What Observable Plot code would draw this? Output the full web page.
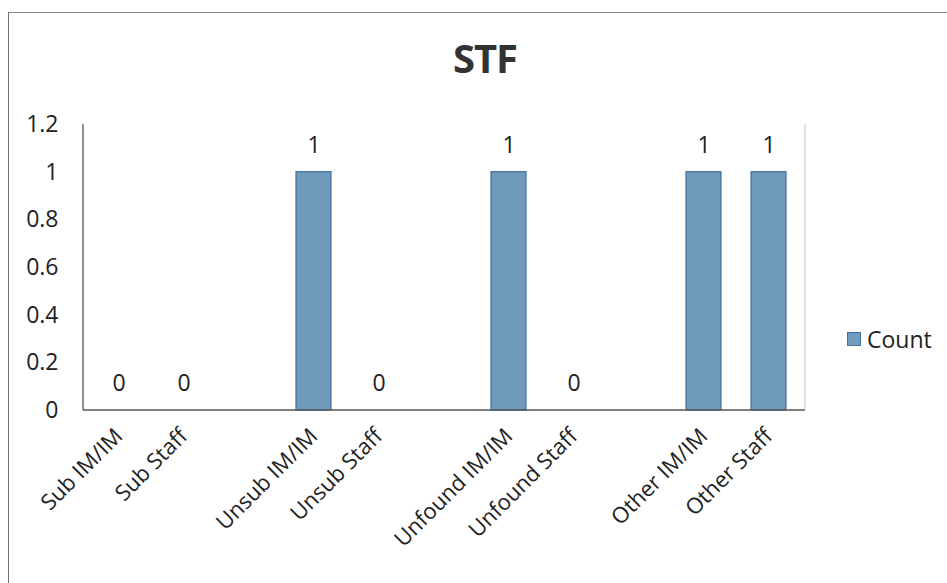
<!DOCTYPE html>
<html><head><meta charset="utf-8">
<script src="https://cdn.jsdelivr.net/npm/d3@7"></script>
<script src="https://cdn.jsdelivr.net/npm/@observablehq/plot@0.6"></script>
<style>
body{margin:0;background:#fff;font-family:"Open Sans",sans-serif;}
#wrap{position:relative;width:947px;height:583px;overflow:hidden;background:#fff;}
#frame{position:absolute;left:8px;top:12px;width:960px;height:600px;border-left:1.5px solid #6f6f6f;border-top:1.5px solid #888;}
#title{position:absolute;left:0;width:970px;top:30px;text-align:center;font-size:40px;font-weight:bold;color:#333;letter-spacing:-1px;}
#chart{position:absolute;left:0;top:90px;}
#legend{position:absolute;left:847px;top:323px;display:flex;align-items:center;font-size:23px;color:#222;}
#legend .sw{width:14px;height:14px;background:#719cbd;border:1px solid #41709f;box-sizing:border-box;margin-right:6px;}
</style></head>
<body>
<div id="wrap">
  <div id="frame"></div>
  <div id="title">STF</div>
  <div id="chart"></div>
  <div id="legend"><div class="sw"></div><span>Count</span></div>
</div>
<script>
const categories = ["Sub IM/IM","Sub Staff","Unsub IM/IM","Unsub Staff","Unfound IM/IM","Unfound Staff","Other IM/IM","Other Staff"];
const counts = [0,0,1,0,1,0,1,1];
// axis slots, with blank gaps between the groups as in the original
const slots = ["Sub IM/IM","Sub Staff"," ","Unsub IM/IM","Unsub Staff","  ","Unfound IM/IM","Unfound Staff","   ","Other IM/IM","Other Staff"];
const yTicks = [0,0.2,0.4,0.6,0.8,1,1.2];

const data = categories.map((c,i)=>({cat:c,count:counts[i]}));

const frameLines = (index, scales, values, dims) => {
  const g = d3.create("svg:g");
  const x0 = dims.marginLeft, x1 = dims.width - dims.marginRight;
  const y0 = dims.marginTop, y1 = dims.height - dims.marginBottom;
  g.append("line").attr("x1",x1).attr("x2",x1).attr("y1",y0).attr("y2",y1).attr("stroke","#c4c4c4").attr("stroke-width",1);
  g.append("line").attr("x1",x0).attr("x2",x0).attr("y1",y0).attr("y2",y1).attr("stroke","#555").attr("stroke-width",1.3);
  g.append("line").attr("x1",x0).attr("x2",x1).attr("y1",y1).attr("y2",y1).attr("stroke","#555").attr("stroke-width",1.3);
  return g.node();
};

const chart = Plot.plot({
  width: 947, height: 493,
  marginLeft: 83, marginRight: 142, marginTop: 34, marginBottom: 173,
  style: {fontFamily: "Open Sans, sans-serif", fontSize: "23px", color: "#222", background: "transparent", overflow: "visible"},
  x: {domain: slots, paddingInner: 0.46, paddingOuter: 0.23, label: null},
  y: {domain: [0, 1.2], label: null},
  marks: [
    Plot.barY(data, {x: "cat", y: "count", filter: d => d.count > 0, fill: "#6f9aba", stroke: "#41709f", strokeWidth: 1.2}),
    Plot.text(data, {x: "cat", y: "count", text: d => String(d.count), dy: -27, fontSize: 23, fill: "#222"}),
    Plot.axisY({ticks: yTicks, tickSize: 0, tickPadding: 25, fontSize: 23, label: null, tickFormat: d => String(d)}),
    Plot.axisX({tickSize: 0, tickRotate: -45, tickPadding: 22, fontSize: 22, label: null}),
    frameLines
  ]
});
document.getElementById("chart").appendChild(chart);
</script>
</body></html>
